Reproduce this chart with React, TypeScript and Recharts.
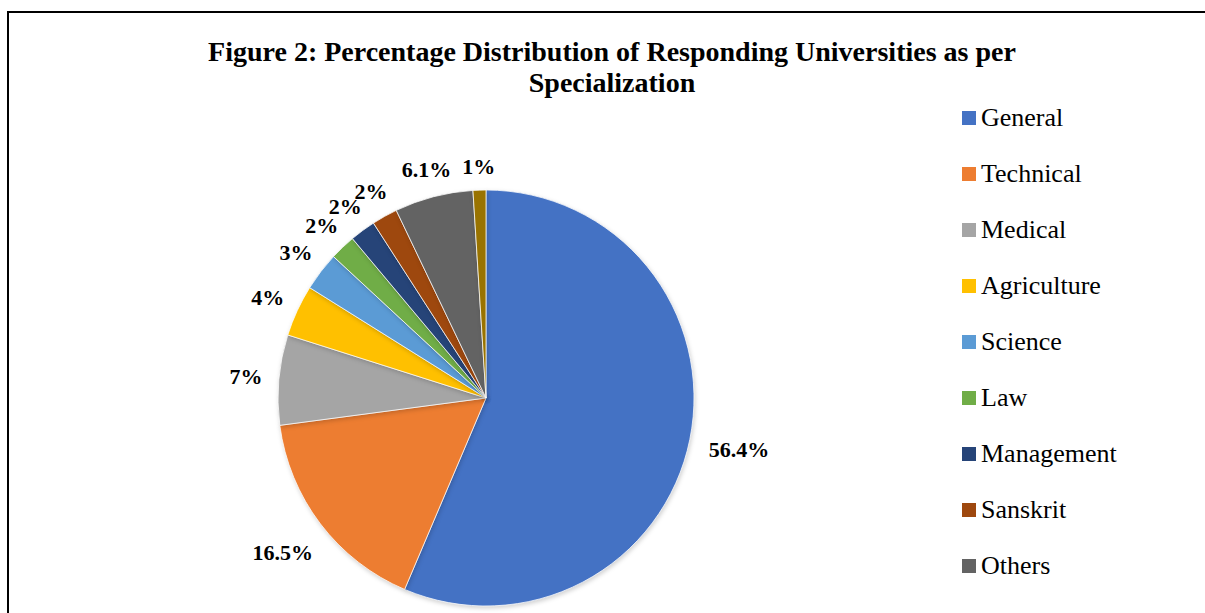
import { PieChart, Pie, Cell, Legend } from "recharts";

const categories = [
  "General",
  "Technical",
  "Medical",
  "Agriculture",
  "Science",
  "Law",
  "Management",
  "Sanskrit",
  "Others",
  "Yoga",
];
const shares = [56.4, 16.5, 7, 4, 3, 2, 2, 2, 6.1, 1];
const shareLabels = ["56.4%", "16.5%", "7%", "4%", "3%", "2%", "2%", "2%", "6.1%", "1%"];
const colors = [
  "#4472C4",
  "#ED7D31",
  "#A5A5A5",
  "#FFC000",
  "#5B9BD5",
  "#70AD47",
  "#264478",
  "#9E480E",
  "#636363",
  "#997300",
];
// the last legend entry falls below the visible frame
const legendCount = 9;

const data = categories.map((name, i) => ({ name, value: shares[i] }));

const serif = '"Liberation Serif", "Times New Roman", serif';

const RAD = Math.PI / 180;

// labels sit just outside the pie, pushed out a bit more for wide text
const renderLabel = (props: any) => {
  const { cx, cy, midAngle, outerRadius, index } = props;
  const sx = Math.cos(-midAngle * RAD);
  const sy = Math.sin(-midAngle * RAD);
  const text = shareLabels[index];
  const hw = text.length * 5.5;
  const d = outerRadius + 22 + hw * Math.abs(sx) + (sy > 0 ? 6 : 1) * Math.abs(sy);
  return (
    <text
      x={cx + d * sx}
      y={cy + d * sy}
      textAnchor="middle"
      dominantBaseline="central"
      fill="#000"
      style={{ fontFamily: serif, fontWeight: "bold", fontSize: 22 }}
    >
      {text}
    </text>
  );
};

const renderLegend = () => (
  <div style={{ margin: 0, padding: 0 }}>
    {categories.slice(0, legendCount).map((name, i) => (
      <div
        key={name}
        style={{ height: 56, display: "flex", alignItems: "center", fontFamily: serif, fontSize: 26, color: "#000" }}
      >
        <span style={{ width: 14, height: 14, background: colors[i], marginRight: 5, display: "inline-block" }} />
        <span>{name}</span>
      </div>
    ))}
  </div>
);

export default function App() {
  return (
    <div
      style={{
        position: "fixed",
        left: 0,
        top: 0,
        width: 1205,
        height: 613,
        overflow: "hidden",
        background: "#fff",
      }}
    >
      <style>{`.recharts-pie-sector path { filter: drop-shadow(1px 2px 2px rgba(0,0,0,0.18)); }`}</style>
      <div
        style={{
          position: "absolute",
          left: 7,
          top: 11,
          width: 1300,
          height: 700,
          border: "2px solid #000",
        }}
      />
      <div
        style={{
          position: "absolute",
          left: 0,
          top: 36,
          width: 1224,
          textAlign: "center",
          fontFamily: serif,
          fontWeight: "bold",
          fontSize: 28,
          lineHeight: "31px",
          color: "#000",
        }}
      >
        Figure 2: Percentage Distribution of Responding Universities as per
        <br />
        Specialization
      </div>
      <div style={{ position: "absolute", left: 0, top: 0 }}>
        <PieChart width={1205} height={613} margin={{ top: 0, right: 0, bottom: 0, left: 0 }}>
          <Pie
            data={data}
            dataKey="value"
            nameKey="name"
            cx={486}
            cy={398}
            outerRadius={208}
            startAngle={90}
            endAngle={-270}
            stroke="#ffffff"
            strokeWidth={0.75}
            label={renderLabel}
            labelLine={false}
            isAnimationActive={false}
          >
            {data.map((d, i) => (
              <Cell key={d.name} fill={colors[i]} />
            ))}
          </Pie>
          <Legend
            layout="vertical"
            align="right"
            verticalAlign="top"
            content={renderLegend}
            wrapperStyle={{ left: 962, top: 90, width: 240 }}
          />
        </PieChart>
      </div>
    </div>
  );
}
